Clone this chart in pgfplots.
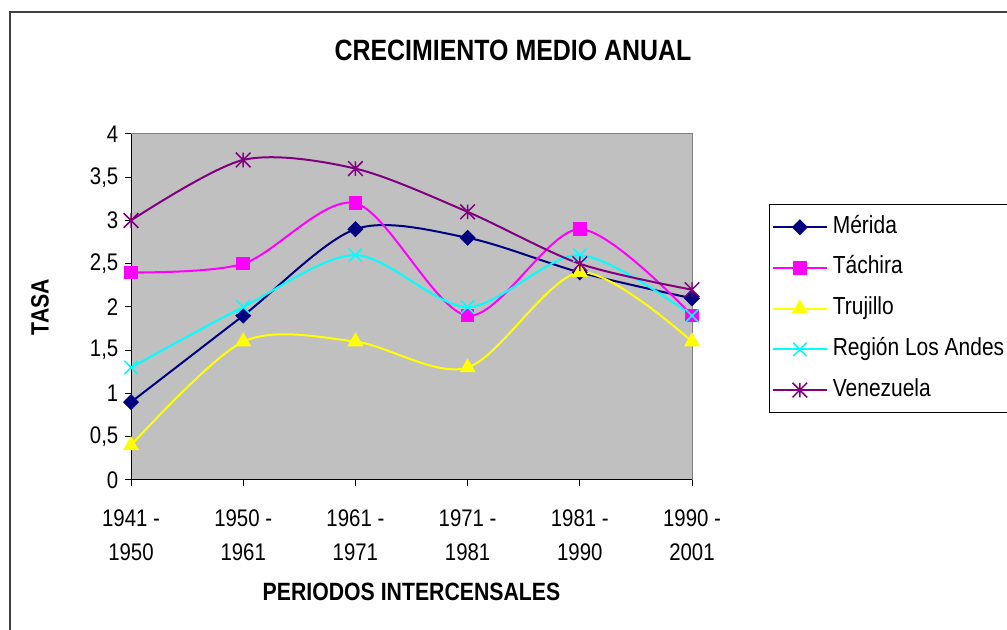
\documentclass[border=0pt]{standalone}
\usepackage{fontspec}
\setmainfont{Liberation Sans}[FakeStretch=0.85]
\usepackage{pgfplots}
\pgfplotsset{compat=1.18}
\definecolor{cMerida}{RGB}{0,0,128}
\definecolor{cTachira}{RGB}{255,0,255}
\definecolor{cTrujillo}{RGB}{255,255,0}
\definecolor{cRegion}{RGB}{0,255,255}
\definecolor{cVenezuela}{RGB}{128,0,128}
\definecolor{plotbg}{RGB}{192,192,192}
\pgfdeclareplotmark{xstar}{%
  \pgfpathmoveto{\pgfqpoint{0pt}{\pgfplotmarksize}}\pgfpathlineto{\pgfqpoint{0pt}{-\pgfplotmarksize}}%
  \pgfpathmoveto{\pgfqpoint{-\pgfplotmarksize}{-\pgfplotmarksize}}\pgfpathlineto{\pgfqpoint{\pgfplotmarksize}{\pgfplotmarksize}}%
  \pgfpathmoveto{\pgfqpoint{-\pgfplotmarksize}{\pgfplotmarksize}}\pgfpathlineto{\pgfqpoint{\pgfplotmarksize}{-\pgfplotmarksize}}%
  \pgfusepathqstroke}
\pgfdeclareplotmark{xcross}{%
  \pgfpathmoveto{\pgfqpoint{-\pgfplotmarksize}{-\pgfplotmarksize}}\pgfpathlineto{\pgfqpoint{\pgfplotmarksize}{\pgfplotmarksize}}%
  \pgfpathmoveto{\pgfqpoint{-\pgfplotmarksize}{\pgfplotmarksize}}\pgfpathlineto{\pgfqpoint{\pgfplotmarksize}{-\pgfplotmarksize}}%
  \pgfusepathqstroke}
\begin{document}
\begin{tikzpicture}
\useasboundingbox (0pt,0pt) rectangle (755.25pt,472.5pt);
\clip (0pt,0pt) rectangle (755.25pt,472.5pt);
\draw[line width=1.5pt, black!75] (7.5pt,463.5pt) rectangle (780pt,-20pt);
\node[font=\bfseries\fontsize{22}{26}\selectfont] at (384.75pt,435pt) {CRECIMIENTO MEDIO ANUAL};
\begin{axis}[
  at={(98.25pt,112.5pt)}, anchor=south west,
  scale only axis, width=420.75pt, height=259.5pt,
  xmin=0, xmax=5, ymin=0, ymax=4,
  axis lines*=left,
  axis line style={-, black, line width=0.75pt},
  axis background/.style={fill=plotbg, draw=black!50, line width=0.75pt},
  tick align=outside,
  major tick length=4.5pt,
  tick style={black, line width=0.75pt},
  xtick={0,1,2,3,4,5},
  xticklabels={{1941 -\\1950},{1950 -\\1961},{1961 -\\1971},{1971 -\\1981},{1981 -\\1990},{1990 -\\2001}},
  xticklabel style={align=center, font=\fontsize{18}{25.5}\selectfont, yshift=-14.5pt},
  ytick={0,0.5,1,1.5,2,2.5,3,3.5,4},
  yticklabel style={font=\fontsize{18}{20}\selectfont, xshift=-1.5pt},
  /pgf/number format/use comma,
  /pgf/number format/assume math mode=true,
  ylabel={TASA},
  xlabel={PERIODOS INTERCENSALES},
  ylabel style={font=\bfseries\fontsize{18.75}{22}\selectfont, at={(axis description cs:-0.162,0.5)}, anchor=center, rotate=0},
  xlabel style={font=\bfseries\fontsize{18.75}{22}\selectfont, at={(axis description cs:0.5,-0.324)}, anchor=center},
  legend style={at={(axis description cs:1.1373,0.7977)}, anchor=north west,
    draw=black, line width=0.75pt, fill=white,
    font=\fontsize{18.5}{20}\selectfont,
    row sep=11.55pt, inner xsep=1.5pt, inner ysep=7.5pt,
    nodes={inner ysep=1pt, inner xsep=3.5pt, text height=13pt, text depth=4pt}},
  legend cell align=left,
  legend image code/.code={\draw[mark repeat=2,mark phase=2,#1] plot coordinates {(0pt,0pt) (20.5pt,0pt) (41pt,0pt)};},
  every axis plot/.append style={line width=1.5pt, smooth},
]
\addplot[cMerida, mark=square*, mark size=3.5pt, mark options={rotate=45, solid}] coordinates {(0,0.9) (1,1.9) (2,2.9) (3,2.8) (4,2.4) (5,2.1)};
\addplot[cTachira, mark=square*, mark size=4.3pt] coordinates {(0,2.4) (1,2.5) (2,3.2) (3,1.9) (4,2.9) (5,1.9)};
\addplot[cTrujillo, mark=triangle*, mark size=5.5pt] coordinates {(0,0.4) (1,1.6) (2,1.6) (3,1.3) (4,2.4) (5,1.6)};
\addplot[cRegion, mark=xcross, mark size=5pt, mark options={line width=1.2pt}] coordinates {(0,1.3) (1,2.0) (2,2.6) (3,2.0) (4,2.6) (5,1.9)};
\addplot[cVenezuela, mark=xstar, mark size=5.5pt, mark options={line width=1.1pt}] coordinates {(0,3.0) (1,3.7) (2,3.6) (3,3.1) (4,2.5) (5,2.2)};
\legend{\makebox[135pt][l]{Mérida},\makebox[135pt][l]{Táchira},\makebox[135pt][l]{Trujillo},\makebox[135pt][l]{Región Los Andes},\makebox[135pt][l]{Venezuela}}
\end{axis}
\end{tikzpicture}
\end{document}
